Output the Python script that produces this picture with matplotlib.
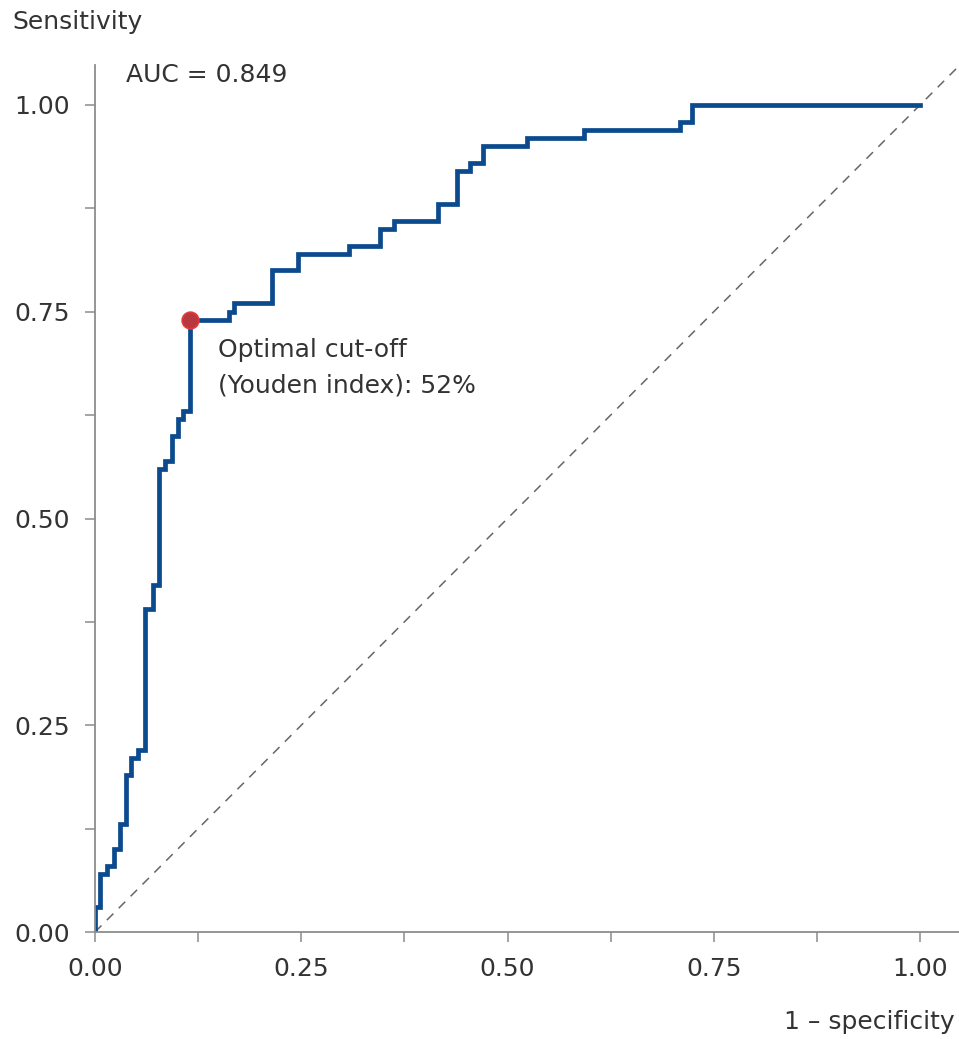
import numpy as np
import matplotlib.pyplot as plt
from matplotlib.ticker import MultipleLocator

# ROC corner points (1 - specificity, sensitivity), drawn as steps-post
fpr = [0.0, 0.0, 0.006, 0.015, 0.023, 0.030, 0.038, 0.044, 0.052, 0.061, 0.070,
       0.077, 0.085, 0.093, 0.100, 0.107, 0.115, 0.162, 0.169, 0.215, 0.246,
       0.308, 0.346, 0.362, 0.416, 0.439, 0.455, 0.470, 0.524, 0.593, 0.709,
       0.724, 1.0]
tpr = [0.0, 0.03, 0.07, 0.08, 0.10, 0.13, 0.19, 0.21, 0.22, 0.39, 0.42,
       0.56, 0.57, 0.60, 0.62, 0.63, 0.74, 0.75, 0.76, 0.80, 0.82,
       0.83, 0.85, 0.86, 0.88, 0.92, 0.93, 0.95, 0.96, 0.97, 0.98,
       1.0, 1.0]

cutoff_x = 0.115
cutoff_y = 0.74
auc = 0.849
ticks = [0.0, 0.25, 0.5, 0.75, 1.0]

plt.rcParams['font.family'] = ['DejaVu Sans']
txt = '#333333'
grey = '#8c8c8c'
fs = 18

fig = plt.figure(figsize=(9.59, 10.39), dpi=100)
ax = fig.add_axes([95/959, 1 - 932/1039, 1 - 95/959, 867/1039])

ax.axline((0, 0), slope=1, color='#666666', lw=1.1, ls=(0, (6, 5)))
ax.plot(fpr, tpr, drawstyle='steps-post', color='#0b4a8c', lw=3.4,
        solid_joinstyle='miter')
ax.plot([cutoff_x], [cutoff_y], 'o', ms=12, mfc='#b8393d', mec='#e2393e', mew=1.2,
        zorder=5)

ax.set_xlim(0, (959 - 95) / 825)
ax.set_ylim(0, (932 - 65) / 827)

for s in ['top', 'right']:
    ax.spines[s].set_visible(False)
for s in ['left', 'bottom']:
    ax.spines[s].set_color(grey)
    ax.spines[s].set_linewidth(1.3)

ax.set_xticks(ticks)
ax.set_yticks(ticks)
ax.set_xticklabels([f'{t:.2f}' for t in ticks])
ax.set_yticklabels([f'{t:.2f}' for t in ticks])
ax.xaxis.set_minor_locator(MultipleLocator(0.125))
ax.yaxis.set_minor_locator(MultipleLocator(0.125))
ax.tick_params(which='both', direction='out', length=7, width=1.1, color=grey,
               labelcolor=txt, labelsize=fs)
ax.tick_params(axis='x', which='both', pad=11)
ax.tick_params(axis='y', which='both', pad=11)

ax.text(0.037, 1.036, f'AUC = {auc}', fontsize=fs, color=txt, va='center')
ax.text(0.149, 0.704, 'Optimal cut-off', fontsize=fs, color=txt, va='center')
ax.text(0.149, 0.661, '(Youden index): 52%', fontsize=fs, color=txt, va='center')

fig.text(12/959, 1 - 22/1039, 'Sensitivity', fontsize=fs, color=txt, va='center')
fig.text(955/959, 1 - 1022/1039, '1 – specificity', fontsize=fs, color=txt,
         va='center', ha='right')

fig.savefig('out.png', dpi=100)
